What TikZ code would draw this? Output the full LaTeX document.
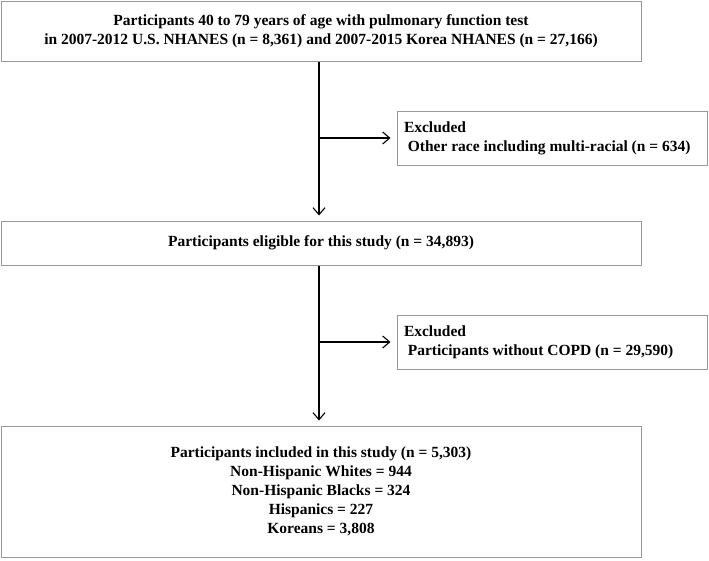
\documentclass[tikz,border=0pt]{standalone}
\usepackage{fontspec}
\setmainfont{Liberation Serif}
\usetikzlibrary{arrows.meta,positioning}
\tikzset{
  box/.style={
    shape = rectangle,
    draw = black!40,
    line width = 1pt,
    inner sep = 0pt,
    align = center,
    minimum width = 640pt
  },
  excl/.style={
    shape = rectangle,
    draw = black!40,
    line width = 1pt,
    inner sep = 0pt,
    inner xsep = 7pt,
    align = flush left,
    text width = 296pt,
    minimum height = 54pt
  },
  flow/.style={
    line width = 1.1pt,
    -{Straight Barb[length=7pt,width=12pt]}
  },
  every node/.style = {
    font = \bfseries\fontsize{15.5}{19}\selectfont
  },
}

\begin{document}
\begin{tikzpicture}[x=1pt,y=-1pt]
  \useasboundingbox (0,0) rectangle (709,560);
  \node[box, minimum height=60pt] (all) at (321,31)
    {Participants 40 to 79 years of age with pulmonary function test\\
     in 2007-2012 U.S. NHANES (n = 8,361) and 2007-2015 Korea NHANES (n = 27,166)};
  \node[excl] (ex1) at (552,138)
    {Excluded\\\hspace*{0.25em}Other race including multi-racial (n = 634)};
  \node[box, minimum height=44pt] (elig) at (321,243)
    {Participants eligible for this study (n = 34,893)};
  \node[excl] (ex2) at (552,342)
    {Excluded\\\hspace*{0.25em}Participants without COPD (n = 29,590)};
  \node[box, minimum height=131pt] (incl) at (321,491.5)
    {Participants included in this study (n = 5,303)\\
     Non-Hispanic Whites = 944\\
     Non-Hispanic Blacks = 324\\
     Hispanics = 227\\
     Koreans = 3,808};
  \coordinate (s1) at ([xshift=-2pt]all.south);
  \coordinate (s2) at ([xshift=-2pt]elig.south);
  \draw[flow, shorten >=5pt] (s1) -- (s1 |- elig.north);
  \draw[flow, shorten >=6pt] (s1 |- ex1.west) -- (ex1.west);
  \draw[flow, shorten >=5pt] (s2) -- (s2 |- incl.north);
  \draw[flow, shorten >=6pt] (s2 |- ex2.west) -- (ex2.west);
\end{tikzpicture}
\end{document}
